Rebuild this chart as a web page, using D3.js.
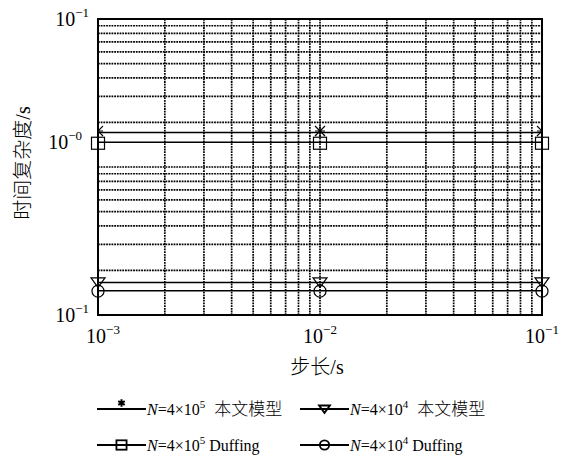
<!DOCTYPE html>
<html><head><meta charset="utf-8">
<script src="https://cdn.jsdelivr.net/npm/d3@7/dist/d3.min.js"></script>
<style>
html,body{margin:0;padding:0;background:#fff;}
text{font-family:"Liberation Serif","Noto Sans CJK SC",serif;fill:#000;}
.cjk{font-family:"Noto Sans CJK SC",sans-serif;font-weight:300;}
.lat{font-family:"Liberation Serif",serif;}
</style></head>
<body><svg id="c" width="563" height="461"></svg>
<script>
// ---- data ----
const stepSizes = [0.001, 0.01, 0.1];
const seriesStar = [1.71, 1.71, 1.71];       // N=4x10^5 本文模型
const seriesTri = [0.166, 0.166, 0.166];     // N=4x10^4 本文模型
const seriesSquare = [1.47, 1.47, 1.47];     // N=4x10^5 Duffing
const seriesCircle = [0.146, 0.146, 0.146];  // N=4x10^4 Duffing
const xTickValues = [0.001, 0.01, 0.1];
const xTickExps = ["−3", "−2", "−1"];
const yTickValues = [10, 1.47, 0.1];
const yTickExps = ["−1", "−0", "−1"];
const legendNs = ["5", "4", "5", "4"];
const legendSuffix = ["本文模型", "本文模型", "Duffing", "Duffing"];
const xTitle = ["步长", "/s"];
const yTitle = ["时间复杂度", "/s"];

// ---- layout ----
const L = 98, R = 542, T = 19, B = 315;
const svg = d3.select("#c");
const x = d3.scaleLog().domain([1e-3, 1e-1]).range([L, R]);
const y = d3.scaleLog().domain([0.1, 10]).range([B, T]);

// grid
const minorX = [];
for (let e = -3; e < -1; e++) for (let k = 1; k <= 9; k++) minorX.push(k * Math.pow(10, e));
const minorY = [];
for (let e = -1; e < 1; e++) for (let k = 1; k <= 9; k++) minorY.push(k * Math.pow(10, e));
const grid = svg.append("g").attr("stroke", "#000").attr("stroke-width", 1.7).attr("stroke-dasharray", "1.8,0.9");
grid.selectAll(".gx").data(minorX.slice(1)).enter().append("line")
  .attr("x1", d => x(d)).attr("x2", d => x(d)).attr("y1", T).attr("y2", B);
grid.selectAll(".gy").data(minorY.slice(1)).enter().append("line")
  .attr("y1", d => y(d)).attr("y2", d => y(d)).attr("x1", L).attr("x2", R);

// frame
svg.append("rect").attr("x", L).attr("y", T).attr("width", R - L).attr("height", B - T)
  .attr("fill", "none").attr("stroke", "#000").attr("stroke-width", 2);

// clip
svg.append("clipPath").attr("id", "pc").append("rect").attr("x", L).attr("y", T).attr("width", R - L).attr("height", B - T);

const line = d3.line().x(d => x(d[0])).y(d => y(d[1]));
function pts(vals) { return stepSizes.map((s, i) => [s, vals[i]]); }

const markers = {
  star: (g, cx, cy, k, sw) => {
    const r = 5 * k;
    g.append("path").attr("d",
      `M${cx - r},${cy - r}L${cx + r},${cy + r}M${cx - r},${cy + r}L${cx + r},${cy - r}M${cx},${cy - r}L${cx},${cy + r}M${cx - r},${cy}L${cx + r},${cy}`)
      .attr("stroke", "#000").attr("stroke-width", sw).attr("fill", "none");
  },
  astx: (g, cx, cy, k, sw) => {
    const r = 5 * k, a = r * 0.866, b = r * 0.5;
    g.append("path").attr("d",
      `M${cx},${cy - r}L${cx},${cy + r}M${cx - a},${cy - b}L${cx + a},${cy + b}M${cx - a},${cy + b}L${cx + a},${cy - b}`)
      .attr("stroke", "#000").attr("stroke-width", sw).attr("fill", "none");
  },
  square: (g, cx, cy, k, sw) => {
    g.append("rect").attr("x", cx - 6.5 * k).attr("y", cy - 6 * k).attr("width", 13 * k).attr("height", 12 * k)
      .attr("fill", "none").attr("stroke", "#000").attr("stroke-width", sw);
  },
  tri: (g, cx, cy, k, sw) => {
    g.append("path").attr("d", `M${cx - 7 * k},${cy - 4.5 * k}L${cx + 7 * k},${cy - 4.5 * k}L${cx},${cy + 5 * k}Z`)
      .attr("fill", "none").attr("stroke", "#000").attr("stroke-width", sw);
  },
  circle: (g, cx, cy, k, sw) => {
    g.append("circle").attr("cx", cx).attr("cy", cy).attr("r", 6 * k)
      .attr("fill", "none").attr("stroke", "#000").attr("stroke-width", sw);
  }
};

const series = [
  { vals: seriesStar, m: "star", clip: true, dy: -1.5 },
  { vals: seriesTri, m: "tri", clip: false, dy: 0 },
  { vals: seriesSquare, m: "square", clip: false, dy: 1 },
  { vals: seriesCircle, m: "circle", clip: false, dy: 0.5 }
];
series.forEach(s => {
  svg.append("path").datum(pts(s.vals)).attr("d", line).attr("fill", "none").attr("stroke", "#000").attr("stroke-width", 1.5);
  const g = svg.append("g");
  if (s.clip) g.attr("clip-path", "url(#pc)");
  pts(s.vals).forEach(p => markers[s.m](g, x(p[0]), y(p[1]) + s.dy, 1, 1.2));
});

// tick labels
function powLabel(g, xx, yy, exp, anchor) {
  const t = g.append("text").attr("class", "lat").attr("x", xx).attr("y", yy).attr("text-anchor", anchor).attr("font-size", 20);
  t.append("tspan").text("10");
  t.append("tspan").attr("font-size", 13).attr("dy", -9).text(exp);
  return t;
}
const ax = svg.append("g");
xTickValues.forEach((v, i) => powLabel(ax, x(v) + (i === 0 ? 5 : 0), 343, xTickExps[i], "middle"));
yTickValues.forEach((v, i) => powLabel(ax, i === 1 ? 82 : 89, y(v) + 7, yTickExps[i], "end"));

// titles
const xt = svg.append("text").attr("x", 317).attr("y", 374).attr("text-anchor", "middle").attr("font-size", 20);
xt.append("tspan").attr("class", "cjk").text(xTitle[0]);
xt.append("tspan").attr("class", "lat").text(xTitle[1]);
const yt = svg.append("text").attr("transform", `translate(30,${163}) rotate(-90)`).attr("text-anchor", "middle").attr("font-size", 20);
yt.append("tspan").attr("class", "cjk").text(yTitle[0]);
yt.append("tspan").attr("class", "lat").text(yTitle[1]);

// legend
const legItems = [
  { m: "astx", x0: 97, yy: 409, i: 0 },
  { m: "tri", x0: 300, yy: 409, i: 1 },
  { m: "square", x0: 97, yy: 445, i: 2 },
  { m: "circle", x0: 300, yy: 445, i: 3 }
];
legItems.forEach(it => {
  const g = svg.append("g");
  g.append("line").attr("x1", it.x0).attr("x2", it.x0 + 49).attr("y1", it.yy).attr("y2", it.yy).attr("stroke", "#000").attr("stroke-width", 2);
  markers[it.m](g, it.x0 + 24.5, it.yy + (it.m === "astx" ? -6 : 0), it.m === "astx" ? 0.75 : 0.78, it.m === "astx" ? 2 : 1.8);
  const t = g.append("text").attr("class", "lat").attr("x", it.x0 + 50).attr("y", it.yy + 6).attr("font-size", 16);
  t.append("tspan").attr("font-style", "italic").text("N");
  t.append("tspan").text("=4×10");
  t.append("tspan").attr("font-size", 11).attr("dy", -7).text(legendNs[it.i]);
  if (it.i < 2) {
    t.append("tspan").attr("dy", 7).attr("dx", 9).attr("class", "cjk").attr("font-size", 17).text(legendSuffix[it.i]);
  } else {
    t.append("tspan").attr("dy", 7).attr("dx", 4).text(legendSuffix[it.i]);
  }
});
</script></body></html>
